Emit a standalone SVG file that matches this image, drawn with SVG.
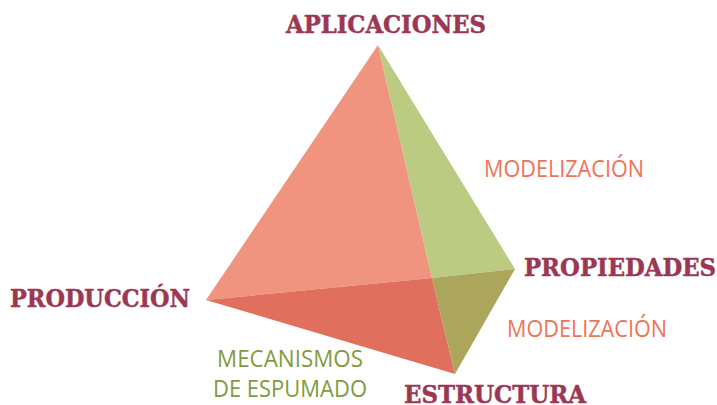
<svg xmlns="http://www.w3.org/2000/svg" width="717" height="405" viewBox="0 0 717 405">
<style>
.v{font-family:"DejaVu Serif","Liberation Serif",serif;font-weight:700;font-size:24px;fill:#9b3752;stroke:#9b3752;stroke-width:.5}
.m{font-family:"Open Sans","Noto Sans",sans-serif;font-size:23px;fill:#ee7359}
.g{font-family:"Open Sans","Noto Sans",sans-serif;font-size:23px;fill:#7f9c3f}
</style>
<rect width="717" height="405" fill="#fff"/>
<g id="tetrahedron">
<polygon points="378,45 206,300 432,278" fill="#f09480"/>
<polygon points="378,45 515,269 432,278" fill="#bccb82"/>
<polygon points="206,300 432,278 455,374" fill="#e0705d"/>
<polygon points="432,278 515,269 455,374" fill="#aca65c"/>
</g>
<g id="connectors"/>
<g id="aplicaciones"><text class="v" x="286" y="33" textLength="200" lengthAdjust="spacingAndGlyphs">APLICACIONES</text></g>
<g id="propiedades"><text class="v" x="524" y="276" textLength="192" lengthAdjust="spacingAndGlyphs">PROPIEDADES</text></g>
<g id="produccion"><text class="v" x="10" y="307" textLength="180" lengthAdjust="spacingAndGlyphs">PRODUCCIÓN</text></g>
<g id="estructura"><text class="v" x="404" y="403" textLength="182" lengthAdjust="spacingAndGlyphs">ESTRUCTURA</text></g>
<g id="modelizacion-1"><text class="m" x="484" y="177" textLength="160" lengthAdjust="spacingAndGlyphs">MODELIZACIÓN</text></g>
<g id="modelizacion-2"><text class="m" x="507" y="337" textLength="160" lengthAdjust="spacingAndGlyphs">MODELIZACIÓN</text></g>
<g id="mecanismos"><text class="g" x="217" y="367" textLength="146" lengthAdjust="spacingAndGlyphs">MECANISMOS</text><text class="g" x="213" y="397" textLength="154" lengthAdjust="spacingAndGlyphs">DE ESPUMADO</text></g>
</svg>
